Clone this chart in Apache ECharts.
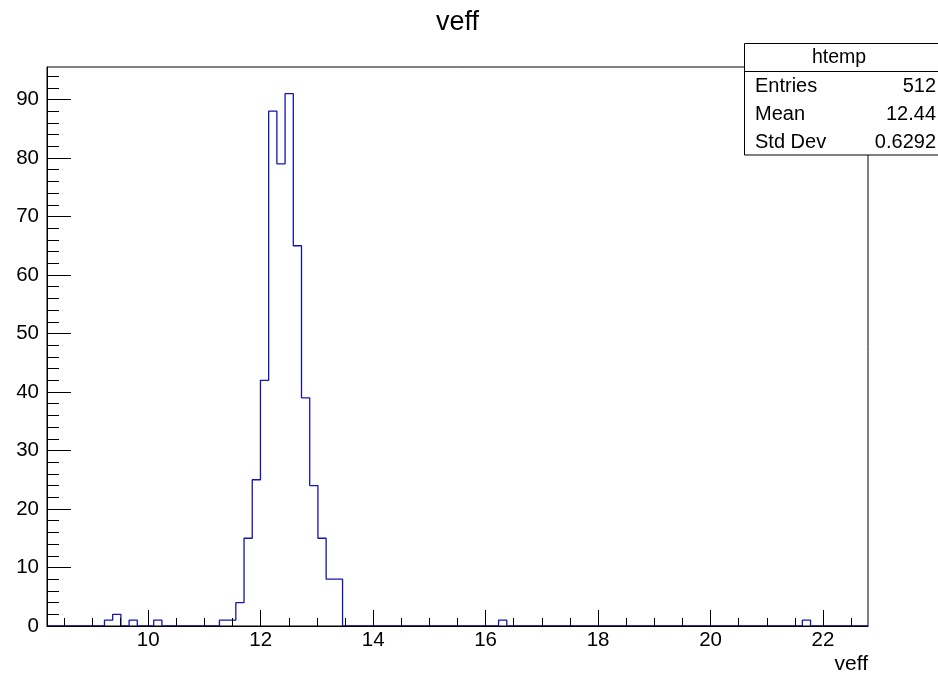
<!DOCTYPE html>
<html><head><meta charset="utf-8">
<script src="https://cdn.jsdelivr.net/npm/echarts@6/dist/echarts.min.js"></script>
<style>html,body{margin:0;padding:0;background:#fff}#c{width:938px;height:673px}</style>
</head><body><div id="c"></div>
<script>
// Histogram definition
const xMin = 8.2, xMax = 22.8, nBins = 100;
const yMax = 95.55;
const counts = [
  0,0,0,0,0,0,0,1,2,0,
  1,0,0,1,0,0,0,0,0,0,
  0,1,1,4,15,25,42,88,79,91,
  65,39,24,15,8,8,0,0,0,0,
  0,0,0,0,0,0,0,0,0,0,
  0,0,0,0,0,1,0,0,0,0,
  0,0,0,0,0,0,0,0,0,0,
  0,0,0,0,0,0,0,0,0,0,
  0,0,0,0,0,0,0,0,0,0,
  0,0,1,0,0,0,0,0,0,0
];
const xMajor = [10, 12, 14, 16, 18, 20, 22];
const xMinor = [8.5, 9, 9.5, 10.5, 11, 11.5, 12.5, 13, 13.5, 14.5, 15, 15.5, 16.5, 17, 17.5, 18.5, 19, 19.5, 20.5, 21, 21.5, 22.5];
const yMajor = [0, 10, 20, 30, 40, 50, 60, 70, 80, 90];
const yMinor = [2,4,6,8,12,14,16,18,22,24,26,28,32,34,36,38,42,44,46,48,52,54,56,58,62,64,66,68,72,74,76,78,82,84,86,88,92,94];
const titleText = 'veff';
const xTitle = 'veff';
const statsName = 'htemp';
const statsLabels = ['Entries', 'Mean', 'Std Dev'];
const statsValues = ['512', '12.44', '0.6292'];

const binW = (xMax - xMin) / nBins;
const stepData = counts.map((c, k) => [xMin + k * binW, c]);
stepData.push([xMax, counts[nBins - 1]]);

const FONT = '"Liberation Sans"';
const G = {left: 47, top: 67, width: 821, height: 559};

const chart = echarts.init(document.getElementById('c'), null, {renderer: 'canvas'});
const rowY = [86.5, 114, 142];
const statsGraphics = [
  {type: 'rect', shape: {x: 744.5, y: 43.5, width: 200, height: 111.5}, style: {fill: '#fff', stroke: '#000', lineWidth: 1}, z: 100},
  {type: 'line', shape: {x1: 744.5, y1: 71.5, x2: 938, y2: 71.5}, style: {stroke: '#000', lineWidth: 1}, z: 101},
  {type: 'text', x: 839, y: 58, style: {text: statsName, font: '19.5px ' + FONT, fill: '#000', align: 'center', verticalAlign: 'middle'}, z: 101}
];
statsLabels.forEach((l, i) => {
  statsGraphics.push({type: 'text', x: 755, y: rowY[i], style: {text: l, font: '20px ' + FONT, fill: '#000', align: 'left', verticalAlign: 'middle'}, z: 101});
  statsGraphics.push({type: 'text', x: 936, y: rowY[i], style: {text: statsValues[i], font: '20px ' + FONT, fill: '#000', align: 'right', verticalAlign: 'middle'}, z: 101});
});

chart.setOption({
  animation: false,
  backgroundColor: '#fff',
  grid: {left: G.left, top: G.top, width: G.width, height: G.height, show: true, borderColor: '#000', borderWidth: 1, backgroundColor: 'transparent'},
  xAxis: [
    {type: 'value', min: xMin, max: xMax, position: 'bottom', z: 5,
     axisLine: {show: true, onZero: false, lineStyle: {color: '#000', width: 1}},
     axisTick: {show: true, inside: true, length: 16, customValues: xMajor, lineStyle: {color: '#000', width: 1}},
     axisLabel: {show: true, customValues: xMajor, fontFamily: 'Liberation Sans', fontSize: 20.5, color: '#000', margin: 4},
     splitLine: {show: false}},
    {type: 'value', min: xMin, max: xMax, position: 'bottom', z: 5,
     axisLine: {show: false},
     axisTick: {show: true, inside: true, length: 8, customValues: xMinor, lineStyle: {color: '#000', width: 1}},
     axisLabel: {show: false},
     splitLine: {show: false}}
  ],
  yAxis: [
    {type: 'value', min: 0, max: yMax, position: 'left', z: 5,
     axisLine: {show: true, onZero: false, lineStyle: {color: '#000', width: 1}},
     axisTick: {show: true, inside: true, length: 24, customValues: yMajor, lineStyle: {color: '#000', width: 1}},
     axisLabel: {show: true, customValues: yMajor, fontFamily: 'Liberation Sans', fontSize: 20.5, color: '#000', margin: 8},
     splitLine: {show: false}},
    {type: 'value', min: 0, max: yMax, position: 'left', z: 5,
     axisLine: {show: false},
     axisTick: {show: true, inside: true, length: 12, customValues: yMinor, lineStyle: {color: '#000', width: 1}},
     axisLabel: {show: false},
     splitLine: {show: false}}
  ],
  series: [{
    type: 'line', xAxisIndex: 0, yAxisIndex: 0, step: 'end', data: stepData,
    symbol: 'none', lineStyle: {color: '#1414b4', width: 1.3}, z: 2, clip: false
  }],
  graphic: [
    {type: 'text', x: 457.5, y: 23, style: {text: titleText, font: '27px ' + FONT, fill: '#000', align: 'center', verticalAlign: 'middle'}, z: 50},
    {type: 'text', x: 868, y: 664, style: {text: xTitle, font: '21px ' + FONT, fill: '#000', align: 'right', verticalAlign: 'middle'}, z: 50}
  ].concat(statsGraphics)
});
</script></body></html>
